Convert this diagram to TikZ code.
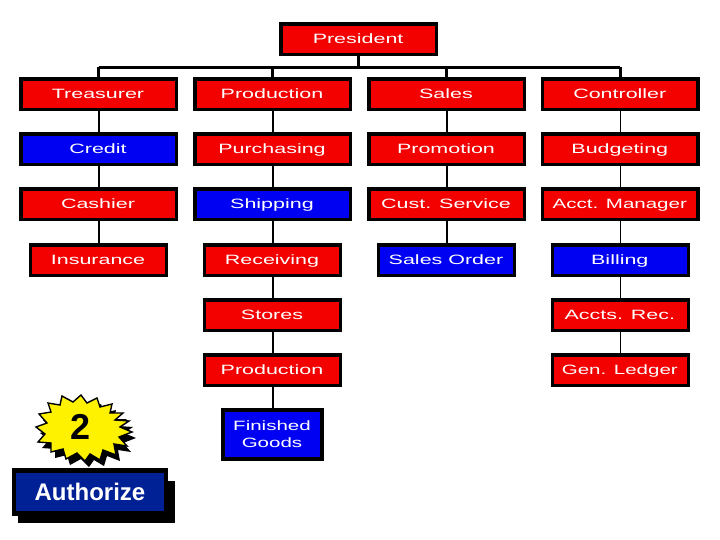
\documentclass[tikz,border=0pt]{standalone}
\usepackage{fontspec}
\setmainfont{Liberation Sans}
\usetikzlibrary{shadows}
\definecolor{cred}{RGB}{243,0,0}
\definecolor{cblue}{RGB}{0,0,243}
\definecolor{navy}{RGB}{0,32,150}
\tikzset{
 box/.style={draw=black,line width=3.5pt,inner sep=0pt,align=center,text=white,font=\fontsize{13.5}{17}\selectfont,
   general shadow={shadow xshift=1pt,shadow yshift=-1pt,fill=black}},
 redbox/.style={box,fill=cred},
 bluebox/.style={box,fill=cblue},
 wide/.style={box,minimum width=155.5pt,minimum height=30.5pt,text height=9.7pt,text depth=1.6pt},
 mid/.style={box,minimum width=136pt,minimum height=30.5pt,text height=9.7pt,text depth=1.6pt},
 lnk/.style={draw=black,line width=2pt},
 lnkthin/.style={draw=black,line width=1pt},
 bus/.style={draw=black,line width=3.6pt},
}
\newcommand{\wt}[1]{\hspace{-1pt}\scalebox{1.59}[1]{#1}}
\newcommand{\wtn}[1]{\hspace{-1pt}\scalebox{1.52}[1]{#1}}
\begin{document}
\begin{tikzpicture}[x=1pt,y=-1pt]
\useasboundingbox (0,0) rectangle (720,540);
\fill[white] (0,0) rectangle (720,540);
\coordinate (busl) at (98.5,67.5);
\coordinate (busr) at (620.3,67.5);
\coordinate (pres0) at (358.6,67.5);
\node[wide,redbox] (pres) at (358.6,39.3) {\wt{President}};
\node[wide,redbox] (a1) at (98.5,94.2) {\wt{Treasurer}};
\node[wide,redbox] (b1) at (272.5,94.2) {\wt{Production}};
\node[wide,redbox] (c1) at (446.5,94.2) {\wt{Sales}};
\node[wide,redbox] (d1) at (620.3,94.2) {\wt{Controller}};
\node[wide,bluebox] (a2) at (98.5,149.2) {\wt{Credit}};
\node[wide,redbox] (b2) at (272.5,149.2) {\wt{Purchasing}};
\node[wide,redbox] (c2) at (446.5,149.2) {\wt{Promotion}};
\node[wide,redbox] (d2) at (620.3,149.2) {\wt{Budgeting}};
\node[wide,redbox] (a3) at (98.5,204.5) {\wt{Cashier}};
\node[wide,bluebox] (b3) at (272.5,204.5) {\wt{Shipping}};
\node[wide,redbox] (c3) at (446.5,204.5) {\wt{Cust. Service}};
\node[wide,redbox] (d3) at (620.3,204.5) {\wtn{Acct. Manager}};
\node[mid,redbox] (a4) at (98.5,260.3) {\wt{Insurance}};
\node[mid,redbox] (b4) at (272.5,260.3) {\wt{Receiving}};
\node[mid,bluebox] (c4) at (446.5,260.3) {\wt{Sales Order}};
\node[mid,bluebox] (d4) at (620.3,260.3) {\wt{Billing}};
\node[mid,redbox] (b5) at (272.5,315.3) {\wt{Stores}};
\node[mid,redbox] (d5) at (620.3,315.3) {\wt{Accts. Rec.}};
\node[mid,redbox] (b6) at (272.5,370.3) {\wt{Production}};
\node[mid,redbox] (d6) at (620.3,370.3) {\wtn{Gen. Ledger}};
\node[bluebox,minimum width=99pt,minimum height=49pt] (b7) at (272.5,434.5) {\wtn{Finished}\\\wtn{Goods}};
% links
\draw[bus] (pres.south) -- (pres0);
\draw[bus] (busl) -- (busr);
\draw[bus] (busl) -- (busl|-a1.north);
\draw[bus] (b1.north|-busl) -- (b1.north);
\draw[bus] (c1.north|-busl) -- (c1.north);
\draw[bus] (busr) -- (busr|-d1.north);
\foreach \u/\v in {a1/a2,a2/a3,a3/a4,b1/b2,b2/b3,b3/b4,b4/b5,b5/b6,b6/b7,c1/c2,c2/c3,c3/c4}
  \draw[lnk] (\u.south) -- (\v.north);
\foreach \u/\v in {d1/d2,d2/d3,d3/d4,d4/d5,d5/d6}
  \draw[lnkthin] (\u.south) -- (\v.north);
% burst
\fill[black,shift={(4,6)}] (81,395) -- (87,403) -- (97,398) -- (100,407) -- (112,404) -- (110,413) -- (123,413) -- (115,420) -- (129,421) -- (120,427) -- (132,432) -- (119,437) -- (127,446) -- (114,444) -- (116,455) -- (103,450) -- (100,460) -- (90,454) -- (85,461) -- (77,453) -- (66,459) -- (63,449) -- (51,452) -- (51,443) -- (38,442) -- (45,434) -- (36,427) -- (47,423) -- (39,414) -- (51,412) -- (48,403) -- (60,405) -- (62,396) -- (73,402) -- cycle;
\filldraw[fill=yellow,draw=black,line width=1.4pt] (81,395) -- (87,403) -- (97,398) -- (100,407) -- (112,404) -- (110,413) -- (123,413) -- (115,420) -- (129,421) -- (120,427) -- (132,432) -- (119,437) -- (127,446) -- (114,444) -- (116,455) -- (103,450) -- (100,460) -- (90,454) -- (85,461) -- (77,453) -- (66,459) -- (63,449) -- (51,452) -- (51,443) -- (38,442) -- (45,434) -- (36,427) -- (47,423) -- (39,414) -- (51,412) -- (48,403) -- (60,405) -- (62,396) -- (73,402) -- cycle;
\node[font=\fontsize{36}{36}\selectfont\bfseries,text=black,inner sep=0pt] (two) at (81,427) {2};
% authorize
\fill[black] (18,481) rectangle (175,523);
\node[draw=black,line width=4.6pt,fill=navy,text=white,inner sep=0pt,minimum width=152pt,minimum height=43pt,font=\fontsize{24}{24}\selectfont\bfseries] (auth) at (90,492) {Authorize};
\end{tikzpicture}
\end{document}
